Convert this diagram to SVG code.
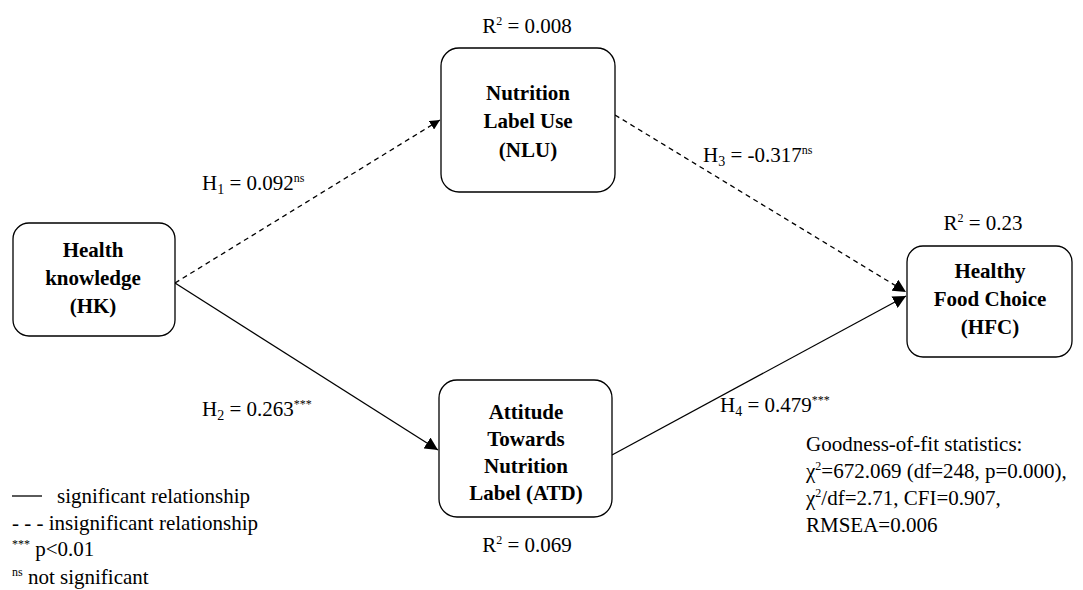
<svg xmlns="http://www.w3.org/2000/svg" width="1083" height="590" viewBox="0 0 1083 590" font-family="'Liberation Serif', Tinos, 'DejaVu Serif', serif">
<style>
text{font-family:'Liberation Serif','Times New Roman',Tinos,'DejaVu Serif',serif;font-size:21px;fill:#000}
.lbl{font-weight:bold;text-anchor:middle}
.box{fill:#fff;stroke:#000;stroke-width:1.3}
.c{stroke:#000;stroke-width:1.3;fill:none}
.d{stroke-dasharray:5,4}
.sup{font-size:12px}
.sub{font-size:14px}
</style>
<defs>
<marker id="ah" viewBox="0 0 10 10" refX="10" refY="5" markerWidth="10" markerHeight="10" markerUnits="userSpaceOnUse" orient="auto">
<path d="M0,0 L10,5 L0,10 z" fill="#000"/>
</marker>
<marker id="ah2" viewBox="0 0 12 12" refX="12" refY="6" markerWidth="13" markerHeight="13" markerUnits="userSpaceOnUse" orient="auto">
<path d="M0,0 L12,6 L0,12 z" fill="#000"/>
</marker>
</defs>
<rect width="1083" height="590" fill="#fff"/>
<g id="connectors">
<line class="c d" x1="175" y1="283" x2="440" y2="120" marker-end="url(#ah)"/>
<line class="c" x1="175" y1="283" x2="438" y2="450" marker-end="url(#ah2)"/>
<line class="c d" x1="615" y1="115" x2="906" y2="292" marker-end="url(#ah2)"/>
<line class="c" x1="612" y1="455" x2="906" y2="296" marker-end="url(#ah2)"/>
</g>
<g id="HK">
<rect class="box" x="13" y="223" width="162" height="113" rx="16"/>
<text class="lbl" x="93" y="257">Health</text>
<text class="lbl" x="93" y="285">knowledge</text>
<text class="lbl" x="93" y="313">(HK)</text>
</g>
<g id="NLU">
<rect class="box" x="441" y="48" width="174" height="144" rx="18"/>
<text class="lbl" x="528" y="100">Nutrition</text>
<text class="lbl" x="528" y="128">Label Use</text>
<text class="lbl" x="528" y="157">(NLU)</text>
<text x="527" y="33" text-anchor="middle">R<tspan class="sup" dy="-8">2</tspan><tspan dy="8"> = 0.008</tspan></text>
</g>
<g id="ATD">
<rect class="box" x="439" y="380" width="173" height="137" rx="18"/>
<text class="lbl" x="526" y="419">Attitude</text>
<text class="lbl" x="526" y="446">Towards</text>
<text class="lbl" x="526" y="473">Nutrition</text>
<text class="lbl" x="526" y="500">Label (ATD)</text>
<text x="527" y="552" text-anchor="middle">R<tspan class="sup" dy="-8">2</tspan><tspan dy="8"> = 0.069</tspan></text>
</g>
<g id="HFC">
<rect class="box" x="907" y="246" width="165" height="111" rx="16"/>
<text class="lbl" x="990" y="278">Healthy</text>
<text class="lbl" x="990" y="306">Food Choice</text>
<text class="lbl" x="990" y="334">(HFC)</text>
<text x="983" y="230" text-anchor="middle">R<tspan class="sup" dy="-8">2</tspan><tspan dy="8"> = 0.23</tspan></text>
</g>
<g id="edge-labels">
<text x="202" y="190">H<tspan class="sub" dy="4">1</tspan><tspan dy="-4"> = 0.092</tspan><tspan class="sup" dy="-8">ns</tspan></text>
<text x="202" y="416">H<tspan class="sub" dy="4">2</tspan><tspan dy="-4"> = 0.263</tspan><tspan class="sup" dy="-8">***</tspan></text>
<text x="703" y="162">H<tspan class="sub" dy="4">3</tspan><tspan dy="-4"> = -0.317</tspan><tspan class="sup" dy="-8">ns</tspan></text>
<text x="720" y="412">H<tspan class="sub" dy="4">4</tspan><tspan dy="-4"> = 0.479</tspan><tspan class="sup" dy="-8">***</tspan></text>
</g>
<g id="fit">
<text x="806" y="451">Goodness-of-fit statistics:</text>
<text x="806" y="478">χ<tspan class="sup" dy="-8">2</tspan><tspan dy="8">=672.069 (df=248, p=0.000),</tspan></text>
<text x="806" y="505">χ<tspan class="sup" dy="-8">2</tspan><tspan dy="8">/df=2.71, CFI=0.907,</tspan></text>
<text x="806" y="532">RMSEA=0.006</text>
</g>
<g id="legend">
<line x1="12" y1="496" x2="42" y2="496" stroke="#000" stroke-width="1.3"/>
<text x="57" y="503">significant relationship</text>
<text x="12" y="530">- - - insignificant relationship</text>
<text x="12" y="556"><tspan class="sup" dy="-8">***</tspan><tspan dy="8"> p&lt;0.01</tspan></text>
<text x="12" y="584"><tspan class="sup" dy="-8">ns</tspan><tspan dy="8"> not significant</tspan></text>
</g>
</svg>
